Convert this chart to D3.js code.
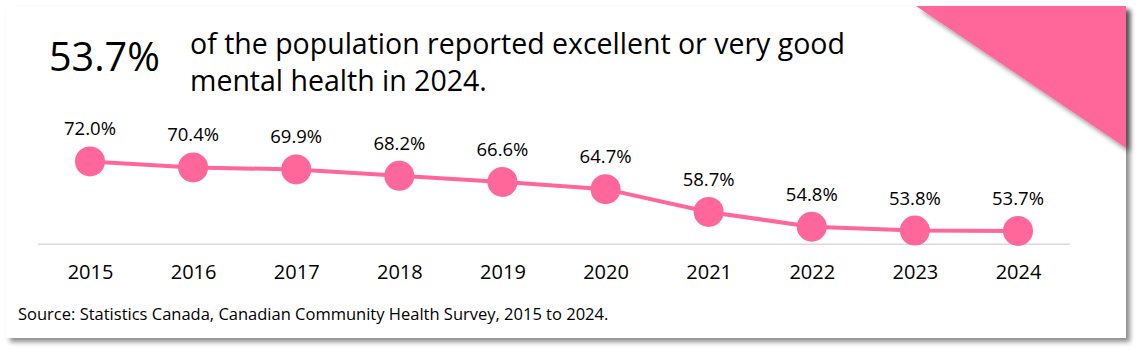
<!DOCTYPE html>
<html>
<head>
<meta charset="utf-8">
<script src="https://cdn.jsdelivr.net/npm/d3@7"></script>
<style>
  html, body { margin: 0; padding: 0; background: #fff; }
  svg { display: block; font-family: 'Open Sans', 'Noto Sans', sans-serif; }
</style>
</head>
<body>
<svg id="chart" width="1140" height="350"></svg>
<script>
const years = ['2015', '2016', '2017', '2018', '2019', '2020', '2021', '2022', '2023', '2024'];
const goodMentalHealth = [72.0, 70.4, 69.9, 68.2, 66.6, 64.7, 58.7, 54.8, 53.8, 53.7];

const PINK = '#ff6699';
const svg = d3.select('#chart');

// shadow for the card
const defs = svg.append('defs');
defs.append('filter')
  .attr('id', 'shadow')
  .attr('x', '-5%').attr('y', '-5%').attr('width', '110%').attr('height', '120%')
  .append('feDropShadow')
  .attr('dx', 4).attr('dy', 4)
  .attr('stdDeviation', 2.5)
  .attr('flood-color', '#000')
  .attr('flood-opacity', 0.45);

svg.append('rect')
  .attr('x', 6).attr('y', 6)
  .attr('width', 1120).attr('height', 332)
  .attr('fill', '#fff')
  .attr('filter', 'url(#shadow)');

// corner triangle
svg.append('path')
  .attr('d', 'M916,6 L1126,6 L1126,148 Z')
  .attr('fill', PINK)
  .attr('filter', 'url(#shadow)');

// headline
svg.append('text')
  .attr('x', 49).attr('y', 71)
  .attr('font-size', 39.5)
  .attr('fill', '#000')
  .text('53.7%');

const head = svg.append('text')
  .attr('font-size', 28.5)
  .attr('fill', '#000');
head.append('tspan').attr('x', 190).attr('y', 54).text('of the population reported excellent or very good');
head.append('tspan').attr('x', 190).attr('y', 91).text('mental health in 2024.');

// scales
const x = d3.scalePoint()
  .domain(years)
  .range([90, 1018]);

const y = d3.scaleLinear()
  .domain([50, 80])
  .range([245, 131]);

// baseline axis
const xAxis = d3.axisBottom(x).tickSize(0).tickPadding(21);
const gx = svg.append('g')
  .attr('transform', `translate(0,${y(50.2)})`)
  .call(xAxis);
gx.select('.domain').remove();
gx.selectAll('text')
  .attr('font-size', 20)
  .attr('font-family', "'Open Sans', sans-serif")
  .attr('fill', '#000');

svg.append('line')
  .attr('x1', 38).attr('x2', 1070)
  .attr('y1', y(50.2)).attr('y2', y(50.2))
  .attr('stroke', '#d9d9d9')
  .attr('stroke-width', 1.5);

// line
const line = d3.line()
  .x((d, i) => x(years[i]))
  .y(d => y(d));

svg.append('path')
  .datum(goodMentalHealth)
  .attr('d', line)
  .attr('fill', 'none')
  .attr('stroke', PINK)
  .attr('stroke-width', 4);

svg.selectAll('circle.pt')
  .data(goodMentalHealth)
  .join('circle')
  .attr('class', 'pt')
  .attr('cx', (d, i) => x(years[i]))
  .attr('cy', d => y(d))
  .attr('r', 15)
  .attr('fill', PINK);

svg.selectAll('text.val')
  .data(goodMentalHealth)
  .join('text')
  .attr('class', 'val')
  .attr('x', (d, i) => x(years[i]))
  .attr('y', d => y(d) - 26)
  .attr('text-anchor', 'middle')
  .attr('font-size', 18.5)
  .attr('fill', '#000')
  .text(d => d.toFixed(1) + '%');

// source
svg.append('text')
  .attr('x', 18).attr('y', 320)
  .attr('font-size', 16.5)
  .attr('fill', '#000')
  .text('Source: Statistics Canada, Canadian Community Health Survey, 2015 to 2024.');
</script>
</body>
</html>
